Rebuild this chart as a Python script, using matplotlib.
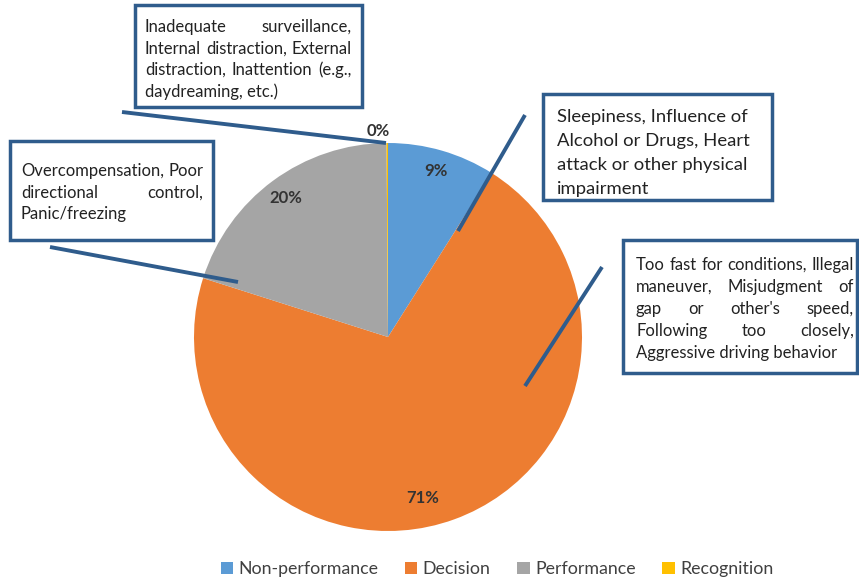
import matplotlib.pyplot as plt

plt.rcParams['font.family'] = ['Lato', 'DejaVu Sans']

# data
categories = ['Non-performance', 'Decision', 'Performance', 'Recognition']
shares = [9, 71, 20, 0.12]
colors = ['#5B9BD5', '#ED7D31', '#A5A5A5', '#FFC000']

box_top = ['Inadequate surveillance,', 'Internal distraction, External',
           'distraction, Inattention (e.g.,', 'daydreaming, etc.)']
box_sleep = ['Sleepiness, Influence of', 'Alcohol or Drugs, Heart',
             'attack or other physical', 'impairment']
box_perf = ['Overcompensation, Poor', 'directional control,', 'Panic/freezing']
box_dec = ['Too fast for conditions, Illegal', 'maneuver, Misjudgment of',
           "gap or other's speed,", 'Following too closely,',
           'Aggressive driving behavior']

W, H = 859, 582
fig = plt.figure(figsize=(W / 100, H / 100), dpi=100)

# pie: centre (388, 337) px, radius 194 px
cx, cy, r = 388, 337, 194
ax = fig.add_axes([(cx - r) / W, (H - cy - r) / H, 2 * r / W, 2 * r / H])
wedges, texts, autotexts = ax.pie(shares, colors=colors, startangle=90,
                                  counterclock=False, autopct='%1.0f%%',
                                  pctdistance=0.89,
                                  textprops=dict(fontsize=12, fontweight='bold',
                                                 color='#333333'))
ax.set_xlim(-1, 1)
ax.set_ylim(-1, 1)
ax.set_aspect('equal')
# excel "best fit" label spots
autotexts[3].set_position((-0.05, 1.06))
autotexts[1].set_position((0.18, -0.83))

# overlay in pixel coordinates for boxes and leader lines
ov = fig.add_axes([0, 0, 1, 1], facecolor='none')
ov.set_xlim(0, W)
ov.set_ylim(H, 0)
ov.axis('off')

line_col = '#2F5C8C'
renderer = fig.canvas.get_renderer()


def text_box(lines, x0, x1, y0, y1, tx0, tx1, ty, step, fs, justify=True):
    ov.add_patch(plt.Rectangle((x0, y0), x1 - x0, y1 - y0, fill=True,
                               facecolor='white', edgecolor=line_col,
                               lw=2.5, zorder=3))
    for i, ln in enumerate(lines):
        y = ty + i * step
        words = ln.split()
        if not justify or i == len(lines) - 1 or len(words) == 1:
            ov.text(tx0, y, ln, fontsize=fs, color='#222222', va='center',
                    ha='left', zorder=4)
            continue
        objs = [ov.text(0, y, w, fontsize=fs, color='#222222', va='center',
                        ha='left', zorder=4) for w in words]
        widths = [o.get_window_extent(renderer).width for o in objs]
        gap = (tx1 - tx0 - sum(widths)) / (len(words) - 1)
        x = tx0
        for o, wd in zip(objs, widths):
            o.set_x(x)
            x += wd + gap


# leader lines
for (xa, ya), (xb, yb) in [((122, 112), (386, 143)), ((525, 115), (458, 231)),
                           ((50, 247), (238, 282)), ((602, 267), (525, 386))]:
    ov.plot([xa, xb], [ya, yb], color=line_col, lw=2.8, zorder=2,
            solid_capstyle='butt')

text_box(box_top, 135, 362, 5, 107, 145, 352, 27, 21.5, 12)
text_box(box_sleep, 543, 772, 94, 200, 557, 760, 117, 24, 13.3, justify=False)
text_box(box_perf, 10, 213, 141, 240, 21, 203, 171, 21.5, 12)
text_box(box_dec, 623, 857, 240, 373, 636, 854, 265, 22, 12)

fig.legend(wedges, categories, loc='center', bbox_to_anchor=(497 / W, 1 - 569 / H),
           ncol=4, frameon=False, fontsize=12.8, handlelength=0.7, handleheight=0.7,
           handletextpad=0.3, columnspacing=1.5, labelcolor='#404040')

fig.savefig('out.png', dpi=100, facecolor='white')
